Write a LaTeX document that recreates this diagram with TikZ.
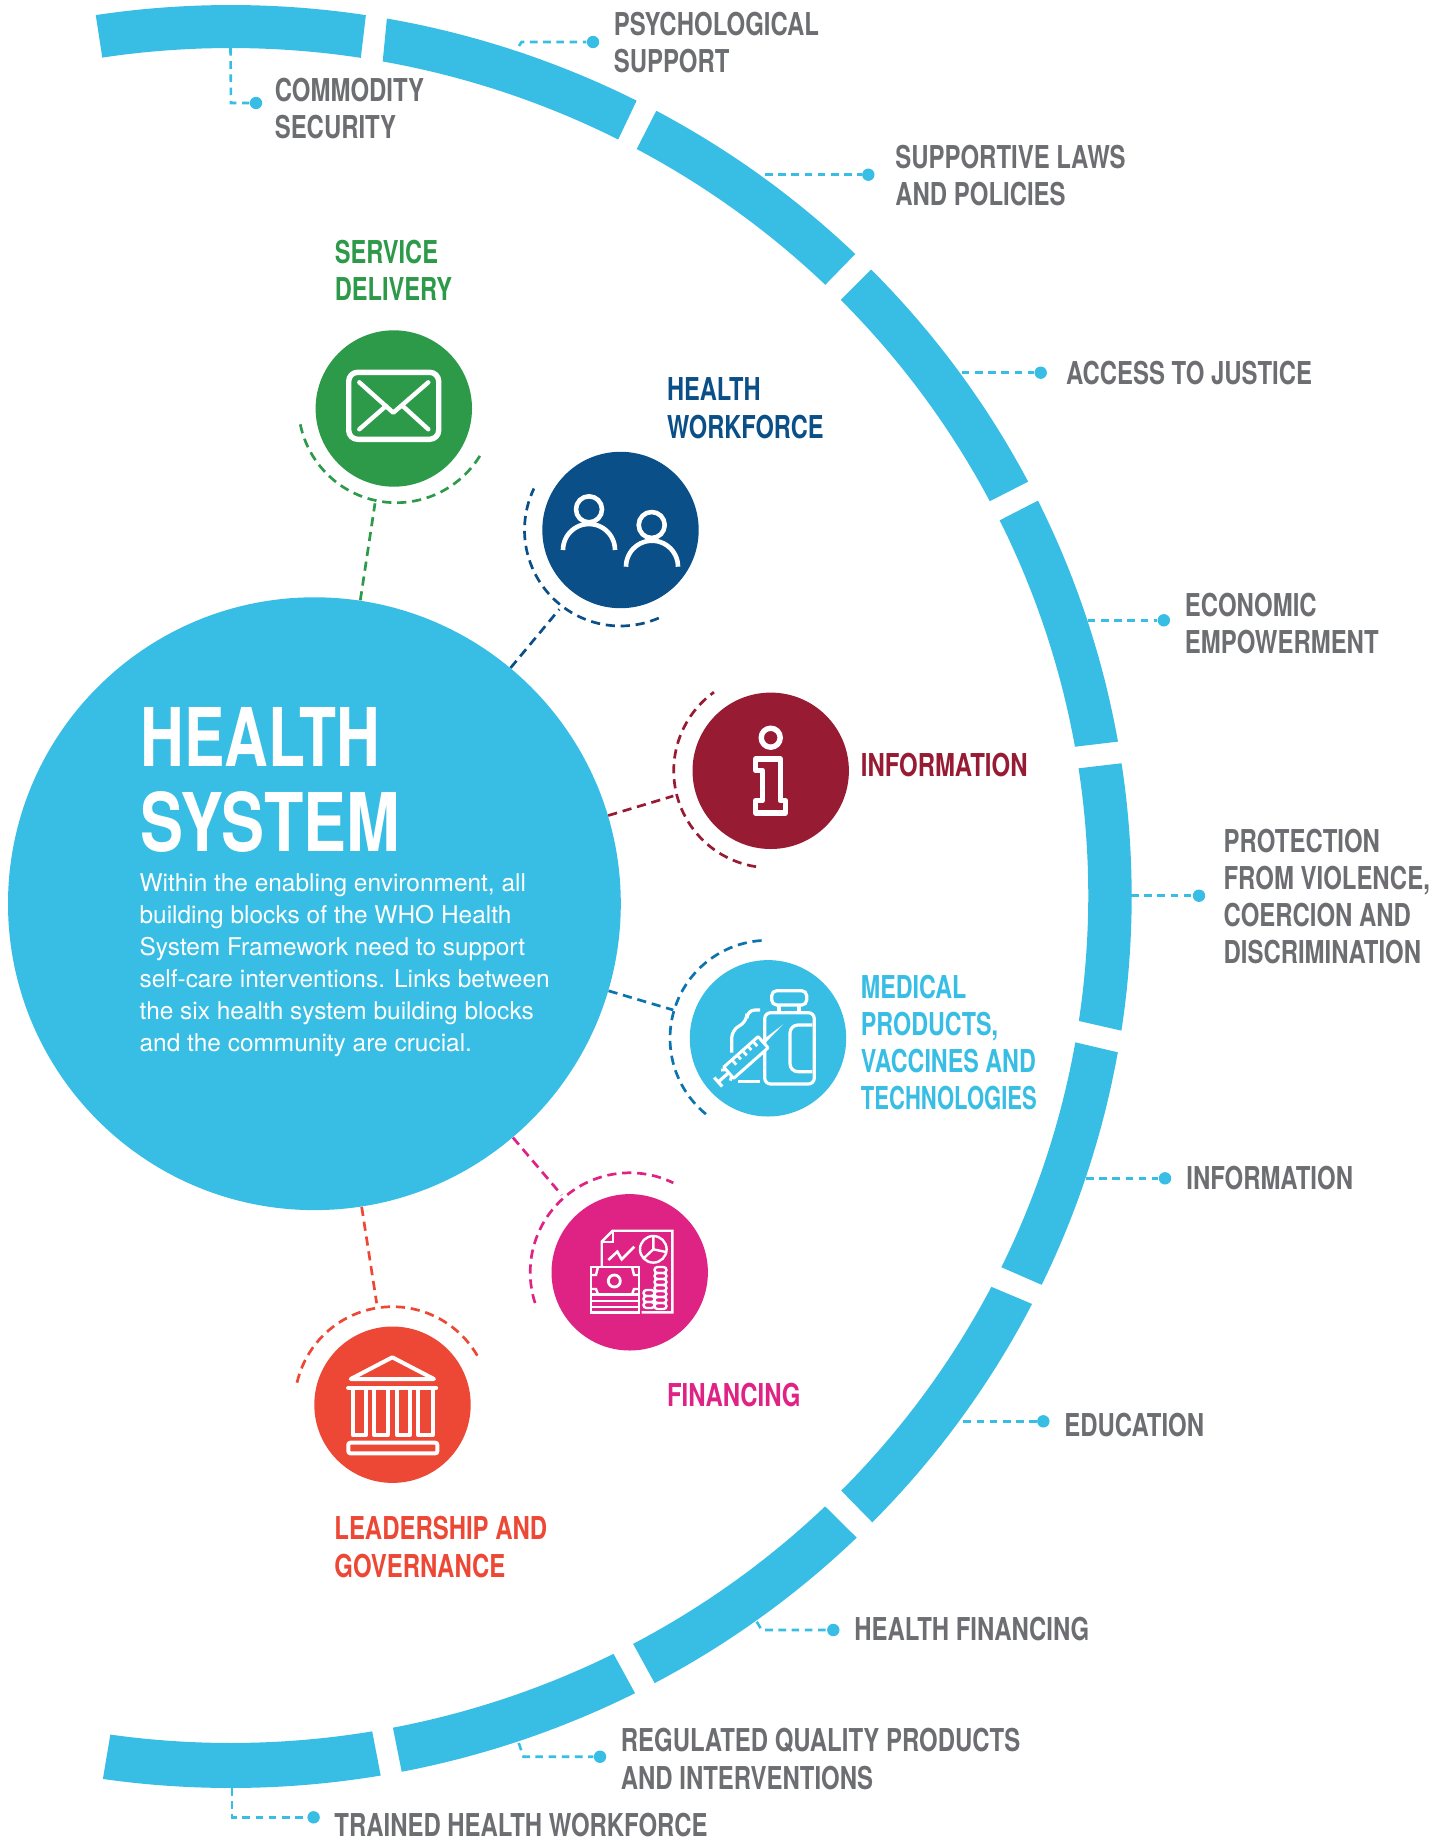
\documentclass[tikz,border=0pt]{standalone}
\usepackage{fontspec}
\setmainfont{TeX Gyre Heros}
\newfontfamily\cond{TeX Gyre Heros}[FakeStretch=0.74]
\newfontfamily\condm{TeX Gyre Heros}[FakeStretch=0.75]
\newfontfamily\condw{TeX Gyre Heros}[FakeStretch=0.76]
\usetikzlibrary{calc}
\definecolor{ringc}{HTML}{38BEE4}
\definecolor{greyc}{HTML}{6D6E72}
\definecolor{greenc}{HTML}{2D9A4A}
\definecolor{navyc}{HTML}{0A4F87}
\definecolor{maroonc}{HTML}{961B33}
\definecolor{bluedash}{HTML}{0B73B0}
\definecolor{pinkc}{HTML}{DF2385}
\definecolor{redc}{HTML}{EC4835}
\tikzset{
  lab/.style={anchor=base west,inner sep=0pt,align=left,font=\condw\bfseries\fontsize{15.75}{18.6}\selectfont},
  labm/.style={lab,font=\condm\bfseries\fontsize{15.75}{18.6}\selectfont},
  labn/.style={lab,font=\cond\bfseries\fontsize{15.75}{18.6}\selectfont},
  glab/.style={lab,text=greyc},
  dotn/.style={circle,fill=ringc,inner sep=0pt,minimum size=6.2pt},
  lead/.style={draw=ringc,line width=1.3pt,dash pattern=on 3.8pt off 2.8pt},
  ball/.style={circle,inner sep=0pt,minimum size=78.2pt},
  dashy/.style={line width=1.35pt,dash pattern=on 4.6pt off 2.9pt},
  ic/.style={draw=white,line width=2.7pt,line join=round,line cap=round},
  icn/.style={draw=white,line width=2.3pt,line join=round},
  ict/.style={draw=white,line width=1.2pt,line join=miter},
}
\newcommand{\dasharc}[6]{%
  \draw[dashy,draw=#6] plot[domain=#4:#5,samples=50] ({#1+#3*cos(\x)},{#2+#3*sin(\x)});}
\begin{document}
\begin{tikzpicture}[x=0.5pt,y=-0.5pt]
\useasboundingbox (0,0) rectangle (1448,1841);

% outer-ring leaders
\node[dotn] (d1) at (256,103) {};
\node[dotn] (d2) at (593,42) {};
\node[dotn] (d3) at (868.3,174.7) {};
\node[dotn] (d4) at (1040.7,372.7) {};
\node[dotn] (d5) at (1163.8,620.3) {};
\node[dotn] (d6) at (1199,895.7) {};
\node[dotn] (d7) at (1165,1178.3) {};
\node[dotn] (d8) at (1043.3,1421.3) {};
\node[dotn] (d9) at (833.3,1630) {};
\node[dotn] (d10) at (600,1756.7) {};
\node[dotn] (d11) at (313.6,1817.3) {};
\coordinate (r1) at (230.5,48);
\coordinate (r1b) at (231,103);
\coordinate (r2) at (519,46);
\coordinate (r2b) at (521.5,42);
\coordinate (r3) at (765,174.7);
\coordinate (r4) at (961.7,372.7);
\coordinate (r5) at (1087.7,620.3);
\coordinate (r6) at (1131,895.7);
\coordinate (r7) at (1086,1178.3);
\coordinate (r8) at (963.3,1421.3);
\coordinate (r9) at (756.7,1621.7);
\coordinate (r9b) at (761.7,1630);
\coordinate (r10) at (518.7,1743);
\coordinate (r10b) at (523.5,1756.7);
\coordinate (r11) at (232,1788);
\coordinate (r11b) at (232,1817.3);
\draw[lead] (r1) -- (r1b) -- (d1);
\draw[lead] (r2) -- (r2b) -- (d2);
\draw[lead] (r3) -- (d3);
\draw[lead] (r4) -- (d4);
\draw[lead] (r5) -- (d5);
\draw[lead] (r6) -- (d6);
\draw[lead] (r7) -- (d7);
\draw[lead] (r8) -- (d8);
\draw[lead] (r9) -- (r9b) -- (d9);
\draw[lead] (r10) -- (r10b) -- (d10);
\draw[lead] (r11) -- (r11b) -- (d11);

% outer ring segments
\foreach \oxa/\oya/\ixa/\iya/\oxb/\oyb/\ixb/\iyb in {
 96/17/102.5/59/366/14.7/361/56.7,
 387/18/383/60/637/100/619.5/137,
 656.7/110/638/146.7/856/253.3/826.7/283.3,
 871.7/269/842.3/298.3/1028/481.7/990.7/500.7,
 1037.7/500.7/1000.3/520/1117.3/741.7/1075/746.7,
 1121/763.3/1078.3/768.3/1121.7/1030.7/1079/1021,
 1117.7/1052.3/1075/1042.3/1042.7/1285.3/1002.3/1267.7,
 1032.7/1304.3/992.3/1287.3/873.3/1523.3/842.7/1492,
 857.7/1538.7/827/1508.3/655.7/1685/634.7/1646.7,
 636/1695/615/1656.7/402/1773/393.4/1730,
 381/1777/372.5/1733/103/1778/110.4/1734}{
  \pgfmathsetmacro{\ta}{atan2((\oya-896.5)/891.5,(\oxa-230.7)/901)}
  \pgfmathsetmacro{\tb}{atan2((\oyb-896.5)/891.5,(\oxb-230.7)/901)}
  \pgfmathsetmacro{\ua}{atan2((\iya-895.5)/847.5,(\ixa-230.7)/857.6)}
  \pgfmathsetmacro{\ub}{atan2((\iyb-895.5)/847.5,(\ixb-230.7)/857.6)}
  \fill[ringc] plot[domain=\ta:\tb,samples=40] ({230.7+901*cos(\x)},{896.5+891.5*sin(\x)})
     -- plot[domain=\ub:\ua,samples=40] ({230.7+857.6*cos(\x)},{895.5+847.5*sin(\x)}) -- cycle;
}

% central circle and balls
\node[circle,fill=ringc,inner sep=0pt,minimum size=306.4pt] (main) at (314.4,903.7) {};
\node[ball,fill=greenc] (b1) at (393.8,408.5) {};
\node[ball,fill=navyc] (b2) at (620.5,530) {};
\node[ball,fill=maroonc] (b3) at (770.7,770.8) {};
\node[ball,fill=ringc] (b4) at (768,1038.3) {};
\node[ball,fill=pinkc] (b5) at (629.7,1272.3) {};
\node[ball,fill=redc] (b6) at (392.5,1404.7) {};

% dashed arcs
\dasharc{396.3}{404.7}{98}{31.5}{168.7}{greenc}
\dasharc{620.5}{530}{96}{66.5}{205.6}{navyc}
\dasharc{770.7}{770.8}{97}{98.7}{234.2}{maroonc}
\dasharc{768}{1038.3}{98}{129.3}{266.6}{bluedash}
\dasharc{629.7}{1272.3}{99.5}{162}{296}{pinkc}
\dasharc{392.5}{1404.7}{98}{193}{330}{redc}

% spokes
\coordinate (s1) at (375,503.3);
\coordinate (s2) at (559.3,609.3);
\coordinate (s3) at (673.3,796);
\coordinate (s4) at (673.3,1010);
\coordinate (s5) at (561.7,1195);
\coordinate (s6) at (376.7,1303.3);
\draw[dashy,draw=greenc] (main) -- (s1);
\draw[dashy,draw=navyc] (main) -- (s2);
\draw[dashy,draw=maroonc] (main) -- (s3);
\draw[dashy,draw=bluedash] (main) -- (s4);
\draw[dashy,draw=pinkc] (main) -- (s5);
\draw[dashy,draw=redc] (main) -- (s6);

% envelope
\draw[ic,rounded corners=4.5pt] (348.7,372.3) rectangle (438.7,439.3);
\draw[draw=white,line width=2.2pt,line cap=round,line join=round] (359.3,382.3) -- (393.3,412.7) -- (428.3,382.3);
\draw[draw=white,line width=2.2pt,line cap=round] (359.3,429.3) -- (386,406);
\draw[draw=white,line width=2.2pt,line cap=round] (428.3,429.3) -- (402.7,406);

% people
\draw[icn] (589,509.3) circle[radius=13];
\draw[icn] plot[domain=180:360,samples=30] ({589+26*cos(\x)},{550+26*sin(\x)});
\draw[icn] (651.7,525) circle[radius=13];
\draw[icn] plot[domain=180:360,samples=30] ({652+26*cos(\x)},{566.7+26*sin(\x)});

% information
\draw[ic] (770.7,737.7) circle[radius=9.5];
\draw[ic] (755.7,759) -- (780.3,759) -- (780.3,800.7) -- (785.3,800.7) -- (785.3,813) -- (755.7,813) -- (755.7,800.7) -- (762.3,800.7) -- (762.3,770.3) -- (755.7,770.3) -- cycle;

% medicine
\draw[ict,line width=1.6pt,rounded corners=3pt] (764.7,1012.7) rectangle (814.3,1084);
\draw[ict,line width=1.6pt,rounded corners=2.5pt] (771.7,990.7) rectangle (806.7,1005);
\draw[ict,line width=1.6pt] (779,1005) -- (779,1011) (799,1005) -- (799,1011);
\draw[ict,line width=1.6pt,rounded corners=4pt] (812.3,1025) -- (790,1025) -- (790,1071.7) -- (812.3,1071.7);
\draw[ict,line width=1.6pt,rounded corners=4pt] (760,1010) -- (747,1010) -- (747,1021.7) -- (731.7,1030) -- (731.7,1052.7);
\draw[ict,line width=1.6pt] (738.3,1081.7) -- (760,1081.7);
\begin{scope}[shift={(783.3,1024.3)},x={(-0.374pt,-0.3315pt)},y={(0.3315pt,-0.374pt)}]
  \fill[white] (0,0) -- (27,-2) -- (27,2) -- cycle;
  \filldraw[draw=white,fill=ringc,line width=1.5pt,line join=round] (27,-7.5) -- (73,-7.5) -- (73,7.5) -- (27,7.5) -- cycle;
  \draw[draw=white,line width=1.4pt] (34,-7.5) -- (34,-1) (41,-7.5) -- (41,-2) (48,-7.5) -- (48,-1) (55,-7.5) -- (55,-2) (62,-7.5) -- (62,-1);
  \draw[draw=white,line width=1.6pt] (73,0) -- (87,0) (87,-6) -- (87,6);
  \draw[draw=white,line width=1.4pt] (73,-4) -- (77,-7) (73,4) -- (77,7);
\end{scope}

% finance
\draw[ict] (601.7,1266) -- (601.7,1241.7) -- (612.7,1230.7) -- (672.3,1230.7) -- (672.3,1312.3) -- (641.7,1312.3);
\draw[ict] (612.7,1230.7) -- (612.7,1241.7) -- (601.7,1241.7);
\draw[ict] (653.3,1249.3) circle[radius=13.3];
\draw[ict] (653.3,1236) -- (653.3,1249.3) -- (666,1252) (653.3,1249.3) -- (643.5,1258.5);
\draw[ict,line width=1.3pt] (608.3,1260) -- (617.3,1251.7) -- (621.7,1259.3) -- (634.3,1246.7);
\draw[ict] (591,1266.7) rectangle (639,1312.3);
\draw[ict] (591,1294.3) -- (639,1294.3) (591,1301) -- (639,1301) (591,1306.7) -- (639,1306.7);
\draw[ict,line width=1.4pt] (614.3,1281) circle[radius=6];
\draw[ict] (591,1275) -- (596,1275) -- (598,1266.7) (639,1275) -- (634,1275) -- (632,1266.7);
\draw[ict] (591,1289) -- (596,1289) -- (598,1294.3) (639,1289) -- (634,1289) -- (632,1294.3);
\foreach \yy in {1270,1276,1282,1288,1294,1300,1306}{
  \draw[ict,rounded corners=1.5pt] (654.5,\yy-3) rectangle (666.5,\yy+3);}
\foreach \yy in {1293,1299,1305}{
  \draw[ict,rounded corners=1.5pt] (643.5,\yy-3) rectangle (654.5,\yy+3);}

% bank
\draw[ic,line width=2pt] (392.3,1357.3) -- (350.7,1379) -- (434,1379) -- cycle;
\draw[ic,line width=2.2pt] (348.3,1388) -- (436,1388);
\draw[ic,line width=2pt,line cap=butt] (352.7,1388) -- (352.7,1435) -- (366,1435) -- (366,1388);
\draw[ic,line width=2pt,line cap=butt] (374.3,1388) -- (374.3,1435) -- (387.7,1435) -- (387.7,1388);
\draw[ic,line width=2pt,line cap=butt] (396.7,1388) -- (396.7,1435) -- (410,1435) -- (410,1388);
\draw[ic,line width=2pt,line cap=butt] (418.3,1388) -- (418.3,1435) -- (432.7,1435) -- (432.7,1388);
\draw[ic,line width=2pt,rounded corners=1pt] (348.3,1442.7) rectangle (437.3,1453.3);

% central text
\node[anchor=base west,inner sep=0pt,align=left,text=white,font=\cond\bfseries\fontsize{40.5}{42.5}\selectfont] (title) at (140.2,851.7) {\scalebox{1.01}[1]{HEALTH}\\\scalebox{1.075}[1]{SYSTEM}};
\node[anchor=base west,inner sep=0pt,align=left,text=white,font=\fontsize{12.22}{16}\selectfont] (body) at (139.2,1051) {Within the enabling environment, all\\building blocks of the WHO Health\\System Framework need to support\\self-care interventions. Links between\\the six health system building blocks\\and the community are crucial.};

% coloured labels
\node[labm,text=greenc] (l1) at (334.5,300.3) {SERVICE\\DELIVERY};
\node[labm,text=navyc] (l2) at (666.7,438) {HEALTH\\WORKFORCE};
\node[lab,text=maroonc] (l3) at (860.5,776) {INFORMATION};
\node[labn,text=ringc] (l4) at (860.5,1109.7) {MEDICAL\\PRODUCTS,\\VACCINES AND\\\scalebox{0.945}[1]{TECHNOLOGIES}};
\node[lab,text=pinkc] (l5) at (666.7,1406) {FINANCING};
\node[lab,text=redc] (l6) at (334,1577) {LEADERSHIP AND\\GOVERNANCE};

% grey labels
\node[glab] (g1) at (274.4,138.7) {COMMODITY\\SECURITY};
\node[glab] (g2) at (613.4,72.7) {PSYCHOLOGICAL\\SUPPORT};
\node[glab] (g3) at (895,205.6) {SUPPORTIVE LAWS\\AND POLICIES};
\node[glab] (g4) at (1065.7,384) {ACCESS TO JUSTICE};
\node[glab] (g5) at (1184.5,653.7) {ECONOMIC\\EMPOWERMENT};
\node[glab] (g6) at (1223.2,963.7) {PROTECTION\\FROM VIOLENCE,\\COERCION AND\\DISCRIMINATION};
\node[glab] (g7) at (1186,1189) {INFORMATION};
\node[glab] (g8) at (1064,1436) {EDUCATION};
\node[glab] (g9) at (854,1640.7) {HEALTH FINANCING};
\node[glab] (g10) at (620.5,1789) {REGULATED QUALITY PRODUCTS\\AND INTERVENTIONS};
\node[glab] (g11) at (334,1836) {TRAINED HEALTH WORKFORCE};
\end{tikzpicture}
\end{document}
